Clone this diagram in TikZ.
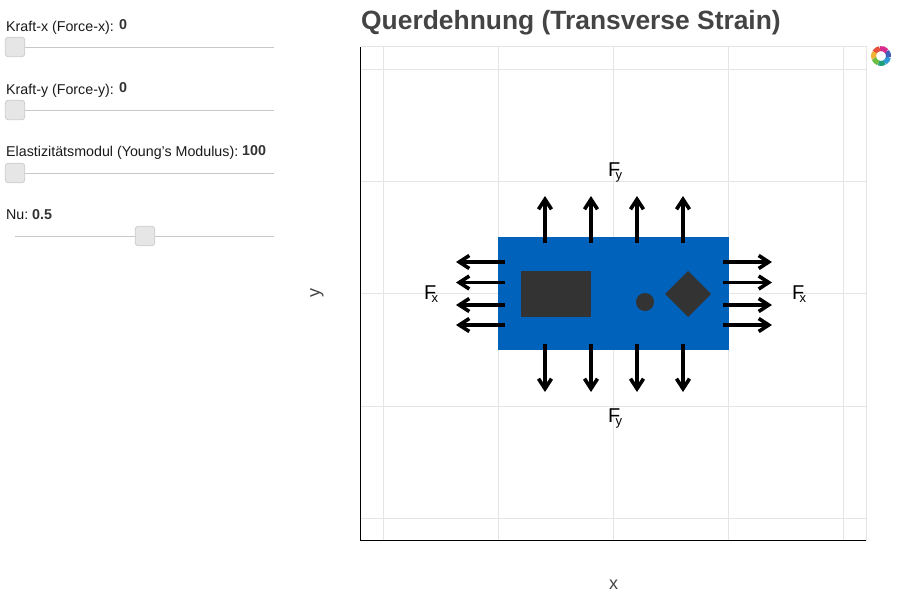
\documentclass[tikz,border=0pt]{standalone}
\usepackage{fontspec}
\setmainfont{Liberation Sans}
\usetikzlibrary{arrows.meta}
\definecolor{plateblue}{HTML}{0062BA}
\definecolor{darkpart}{HTML}{333333}
\definecolor{gridline}{HTML}{E5E5E5}
\definecolor{trackline}{HTML}{C8C8C8}
\definecolor{handlefill}{HTML}{E6E6E6}
\definecolor{handleline}{HTML}{CCCCCC}
\definecolor{titlegray}{HTML}{444444}
\definecolor{logoteal}{HTML}{1F9E7A}
\definecolor{logosky}{HTML}{2E9BD6}
\definecolor{logoblue}{HTML}{3F5FB8}
\definecolor{logopink}{HTML}{D82C8E}
\definecolor{logored}{HTML}{E8503A}
\definecolor{logoyellow}{HTML}{F2B233}
\definecolor{logogreen}{HTML}{6DBE45}
\newcommand{\sub}[1]{\kern-4.8pt\raisebox{-3.5pt}{\fontsize{13}{13}\selectfont #1}}

\begin{document}
\begin{tikzpicture}[x=1pt,y=-1pt]
\tikzstyle{every node} = [inner sep=0pt, font = \fontsize{14.25}{16}\selectfont]
\tikzstyle{label} = [anchor=base west, text=black!90]
\tikzstyle{value} = [anchor=base west, text=darkpart, font=\fontsize{14.3}{16}\selectfont\bfseries]
\tikzstyle{track} = [trackline, line width=1pt]
\tikzstyle{handle} = [draw=handleline, fill=handlefill, rounded corners=3pt, minimum width=19.5pt, minimum height=19.5pt, line width=.8pt]
\tikzstyle{grid} = [gridline, line width=1pt]
\tikzstyle{force} = [line width=3.3pt, -{Straight Barb[length=10pt,width=13pt,line width=3.6pt]}]
\tikzstyle{part} = [fill=darkpart, minimum size=0pt]
\tikzstyle{flabel} = [font=\fontsize{20}{22}\selectfont, text=black]
\tikzstyle{logo} = [line width=5pt]

\useasboundingbox (0, 0) rectangle (901, 596);

% riquadri del grafico
\coordinate (gx1a) at (383.5, 47);  \coordinate (gx1b) at (383.5, 540);
\coordinate (gx2a) at (498.5, 47);  \coordinate (gx2b) at (498.5, 540);
\coordinate (gx3a) at (613.5, 47);  \coordinate (gx3b) at (613.5, 540);
\coordinate (gx4a) at (728.5, 47);  \coordinate (gx4b) at (728.5, 540);
\coordinate (gx5a) at (843.5, 47);  \coordinate (gx5b) at (843.5, 540);
\coordinate (gy1a) at (360, 69.5);  \coordinate (gy1b) at (866, 69.5);
\coordinate (gy2a) at (360, 181.5); \coordinate (gy2b) at (866, 181.5);
\coordinate (gy3a) at (360, 293.5); \coordinate (gy3b) at (866, 293.5);
\coordinate (gy4a) at (360, 406.5); \coordinate (gy4b) at (866, 406.5);
\coordinate (gy5a) at (360, 518.5); \coordinate (gy5b) at (866, 518.5);
\draw[grid] (gx1a) -- (gx1b);
\draw[grid] (gx2a) -- (gx2b);
\draw[grid] (gx3a) -- (gx3b);
\draw[grid] (gx4a) -- (gx4b);
\draw[grid] (gx5a) -- (gx5b);
\draw[grid] (gy1a) -- (gy1b);
\draw[grid] (gy2a) -- (gy2b);
\draw[grid] (gy3a) -- (gy3b);
\draw[grid] (gy4a) -- (gy4b);
\draw[grid] (gy5a) -- (gy5b);

% bordo e assi
\coordinate (origin) at (360.5, 540.5);
\coordinate (top) at (360.5, 47);
\coordinate (corner) at (866, 47);
\coordinate (right) at (866, 540.5);
\draw[grid] (top) -- (corner) -- (right);
\draw[line width=1pt] (top) -- (origin) -- (right);

\node[anchor=base west, text=titlegray, font=\fontsize{26.4}{30}\selectfont\bfseries] (title) at (361, 30) {Querdehnung (Transverse Strain)};
\node[text=titlegray, font=\fontsize{18}{20}\selectfont] (xlabel) at (613.5, 585) {x};
\node[text=titlegray, font=\fontsize{18}{20}\selectfont, rotate=90] (ylabel) at (317, 293) {y};

% piastra
\node[fill=plateblue, minimum width=231pt, minimum height=113pt] (plate) at (613.5, 293.5) {};
\node[part, minimum width=70pt, minimum height=46pt] (rect) at (556, 294) {};
\node[part, circle, minimum size=18pt] (dot) at (645, 302) {};
\fill[darkpart] (665, 294) -- (688, 271) -- (711, 294) -- (688, 317) -- cycle;

% frecce in alto
\coordinate (ta1) at (545, 243); \coordinate (tb1) at (545, 196);
\coordinate (ta2) at (591, 243); \coordinate (tb2) at (591, 196);
\coordinate (ta3) at (637, 243); \coordinate (tb3) at (637, 196);
\coordinate (ta4) at (683, 243); \coordinate (tb4) at (683, 196);
\draw[force] (ta1) -- (tb1);
\draw[force] (ta2) -- (tb2);
\draw[force] (ta3) -- (tb3);
\draw[force] (ta4) -- (tb4);

% frecce in basso
\coordinate (ba1) at (545, 344); \coordinate (bb1) at (545, 392);
\coordinate (ba2) at (591, 344); \coordinate (bb2) at (591, 392);
\coordinate (ba3) at (637, 344); \coordinate (bb3) at (637, 392);
\coordinate (ba4) at (683, 344); \coordinate (bb4) at (683, 392);
\draw[force] (ba1) -- (bb1);
\draw[force] (ba2) -- (bb2);
\draw[force] (ba3) -- (bb3);
\draw[force] (ba4) -- (bb4);

% frecce a sinistra
\coordinate (la1) at (505, 262); \coordinate (lb1) at (456, 262);
\coordinate (la2) at (505, 282.5); \coordinate (lb2) at (456, 282.5);
\coordinate (la3) at (505, 305); \coordinate (lb3) at (456, 305);
\coordinate (la4) at (505, 325); \coordinate (lb4) at (456, 325);
\draw[force] (la1) -- (lb1);
\draw[force] (la2) -- (lb2);
\draw[force] (la3) -- (lb3);
\draw[force] (la4) -- (lb4);

% frecce a destra
\coordinate (ra1) at (723, 262); \coordinate (rb1) at (772, 262);
\coordinate (ra2) at (723, 282.5); \coordinate (rb2) at (772, 282.5);
\coordinate (ra3) at (723, 305); \coordinate (rb3) at (772, 305);
\coordinate (ra4) at (723, 325); \coordinate (rb4) at (772, 325);
\draw[force] (ra1) -- (rb1);
\draw[force] (ra2) -- (rb2);
\draw[force] (ra3) -- (rb3);
\draw[force] (ra4) -- (rb4);

% etichette delle forze
\node[flabel, anchor=base west] (fytop) at (608, 176) {F\sub{y}};
\node[flabel, anchor=base west] (fybot) at (608, 422) {F\sub{y}};
\node[flabel, anchor=base west] (fxleft) at (424, 299) {F\sub{x}};
\node[flabel, anchor=base west] (fxright) at (792, 299) {F\sub{x}};

% cursori
\coordinate (t1a) at (15, 47.5);  \coordinate (t1b) at (274, 47.5);
\coordinate (t2a) at (15, 110.5); \coordinate (t2b) at (274, 110.5);
\coordinate (t3a) at (15, 173.5); \coordinate (t3b) at (274, 173.5);
\coordinate (t4a) at (15, 236.5); \coordinate (t4b) at (274, 236.5);
\draw[track] (t1a) -- (t1b);
\draw[track] (t2a) -- (t2b);
\draw[track] (t3a) -- (t3b);
\draw[track] (t4a) -- (t4b);
\node[handle] (hx) at (15, 47) {};
\node[handle] (hy) at (15, 110) {};
\node[handle] (he) at (15, 173) {};
\node[handle] (hn) at (145, 236) {};

\node[label] (kx) at (6, 31.5) {Kraft-x (Force-x):};
\node[value] (kxval) at (119, 30) {0};
\node[label] (ky) at (6, 94.5) {Kraft-y (Force-y):};
\node[value] (kyval) at (119, 93) {0};
\node[label] (em) at (6, 156.5) {Elastizitätsmodul (Young's Modulus):};
\node[value] (emval) at (242, 156) {100};
\node[label] (nu) at (6, 219.5) {Nu:};
\node[value] (nuval) at (32, 219) {0.5};

% logo
\draw[logo, color=logoteal] (881, 56) ++(60:7.5) arc (60:110:7.5);
\draw[logo, color=logosky] (881, 56) ++(10:7.5) arc (10:60:7.5);
\draw[logo, color=logoblue] (881, 56) ++(-40:7.5) arc (-40:10:7.5);
\draw[logo, color=logopink] (881, 56) ++(-100:7.5) arc (-100:-40:7.5);
\draw[logo, color=logored] (881, 56) ++(-150:7.5) arc (-150:-100:7.5);
\draw[logo, color=logoyellow] (881, 56) ++(-200:7.5) arc (-200:-150:7.5);
\draw[logo, color=logogreen] (881, 56) ++(110:7.5) arc (110:160:7.5);

\end{tikzpicture}
\end{document}
